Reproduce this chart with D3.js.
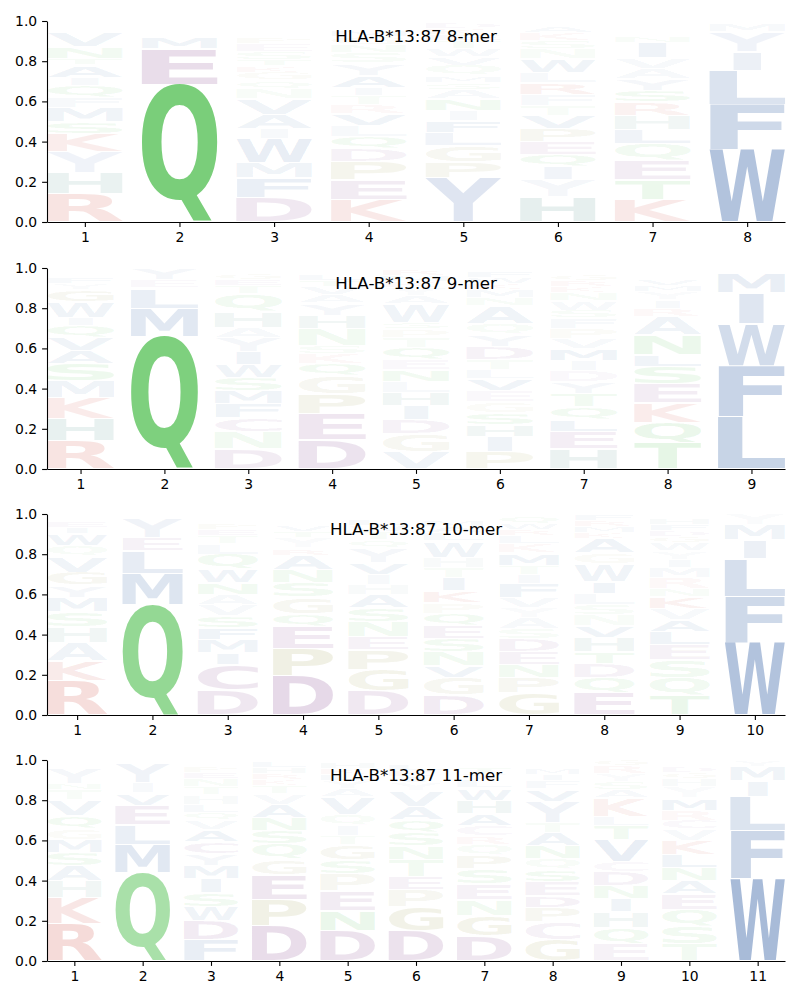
<!DOCTYPE html>
<html><head><meta charset="utf-8">
<script src="https://cdn.jsdelivr.net/npm/d3@7"></script>
<style>body{margin:0;background:#fff}svg{display:block}</style>
</head><body>
<svg id="chart" width="800" height="1000"></svg>
<script>
// ---------- data (letter, probability) stacked bottom -> top ----------
const titles = ["HLA-B*13:87 8-mer","HLA-B*13:87 9-mer","HLA-B*13:87 10-mer","HLA-B*13:87 11-mer"];

const logo8 = [
 [["R",.14],["H",.105],["Y",.105],["K",.09],["S",.06],["M",.07],["F",.05],["Q",.06],["I",.04],["A",.06],["T",.03],["N",.06],["V",.07],["E",.015],["P",.015],["G",.01],["L",.01],["D",.01]],
 [["Q",.685],["E",.175],["M",.06],["L",.02],["D",.02],["V",.015],["A",.015],["S",.01]],
 [["D",.12],["F",.1],["M",.075],["W",.12],["I",.05],["A",.07],["V",.08],["N",.05],["Q",.04],["G",.04],["K",.03],["T",.03],["S",.04],["E",.04],["P",.03],["L",.02],["R",.02],["Y",.02],["H",.025]],
 [["K",.11],["E",.1],["P",.09],["D",.065],["Q",.06],["L",.055],["V",.06],["R",.045],["T",.045],["I",.04],["A",.06],["Y",.06],["S",.05],["N",.04],["G",.04],["M",.03],["W",.025],["F",.02]],
 [["Y",.22],["P",.08],["G",.08],["L",.065],["F",.06],["I",.05],["N",.06],["A",.045],["S",.035],["M",.035],["Q",.05],["V",.04],["W",.04],["T",.04],["E",.03],["K",.03],["D",.03],["R",.01]],
 [["H",.125],["Y",.085],["I",.065],["Q",.06],["E",.065],["P",.065],["V",.065],["T",.05],["F",.055],["R",.06],["L",.05],["W",.065],["N",.05],["S",.04],["K",.04],["A",.03],["D",.02],["G",.01]],
 [["K",.11],["T",.1],["E",.095],["Q",.085],["L",.07],["H",.07],["R",.065],["S",.06],["Y",.06],["A",.05],["V",.05],["I",.075],["N",.03],["G",.02],["F",.02],["M",.02],["D",.02]],
 [["W",.36],["F",.225],["L",.17],["I",.09],["Y",.1],["M",.04],["V",.015]]
];

const logo9 = [
 [["R",.14],["H",.11],["K",.105],["M",.085],["S",.085],["A",.065],["V",.065],["Q",.06],["I",.04],["W",.075],["G",.06],["Y",.03],["F",.03],["T",.025],["N",.025]],
 [["Q",.66],["M",.14],["L",.1],["E",.04],["Y",.06]],
 [["D",.1],["N",.085],["C",.07],["F",.07],["M",.065],["S",.065],["W",.065],["I",.065],["Y",.07],["A",.05],["H",.08],["Q",.085],["T",.04],["E",.03],["G",.03],["K",.02]],
 [["D",.145],["E",.13],["P",.1],["G",.09],["Q",.06],["K",.05],["S",.04],["N",.085],["H",.065],["Y",.06],["A",.04],["V",.04],["T",.03],["L",.03],["W",.025]],
 [["V",.085],["G",.09],["D",.07],["I",.07],["H",.065],["L",.055],["N",.06],["E",.05],["Q",.06],["T",.05],["P",.04],["S",.035],["W",.09],["A",.04],["Y",.04],["K",.03],["M",.03],["R",.03]],
 [["P",.085],["I",.075],["H",.06],["S",.06],["G",.055],["E",.055],["V",.06],["L",.045],["T",.05],["D",.065],["Y",.06],["Q",.055],["A",.085],["N",.04],["M",.04],["K",.03],["W",.03],["F",.03],["R",.02]],
 [["H",.1],["E",.085],["L",.06],["Q",.065],["T",.065],["Y",.06],["D",.055],["I",.05],["M",.06],["V",.05],["P",.05],["F",.05],["S",.04],["W",.045],["N",.04],["K",.03],["R",.03],["G",.03],["A",.02],["C",.015]],
 [["T",.13],["Q",.1],["K",.1],["E",.095],["S",.085],["L",.06],["N",.1],["A",.09],["R",.04],["I",.04],["Y",.04],["M",.03],["V",.03],["G",.02],["D",.02],["F",.02]],
 [["L",.26],["F",.255],["W",.21],["I",.15],["M",.1],["Y",.025]]
];

const logo10 = [
 [["R",.17],["K",.1],["A",.09],["H",.08],["S",.075],["M",.07],["Y",.06],["G",.065],["V",.08],["Q",.05],["W",.06],["I",.03],["E",.03],["T",.025],["F",.015]],
 [["Q",.55],["M",.155],["L",.11],["E",.065],["Y",.095],["F",.025]],
 [["D",.125],["C",.125],["I",.06],["M",.065],["F",.06],["S",.06],["V",.055],["A",.05],["N",.06],["W",.065],["Q",.075],["L",.05],["T",.04],["E",.03],["P",.03],["G",.02],["K",.02]],
 [["D",.195],["P",.135],["E",.11],["Q",.065],["G",.08],["S",.075],["N",.065],["A",.07],["R",.035],["Y",.05],["T",.03],["V",.03],["K",.02],["H",.02],["L",.02]],
 [["D",.12],["G",.105],["P",.1],["E",.065],["N",.075],["S",.07],["A",.065],["H",.05],["I",.05],["V",.06],["Y",.07],["Q",.04],["T",.04],["W",.03],["L",.03],["M",.02]],
 [["D",.1],["G",.085],["V",.06],["N",.07],["S",.065],["E",.065],["Q",.06],["P",.055],["K",.06],["I",.065],["T",.05],["H",.05],["W",.08],["L",.04],["A",.03],["M",.03],["Y",.025]],
 [["G",.11],["P",.075],["N",.065],["E",.065],["D",.065],["S",.05],["A",.055],["Y",.05],["V",.05],["F",.07],["I",.045],["T",.045],["M",.06],["K",.045],["L",.04],["R",.03],["W",.03],["Q",.04]],
 [["E",.11],["Q",.075],["D",.07],["T",.06],["H",.07],["V",.06],["N",.055],["S",.05],["L",.055],["I",.06],["W",.085],["G",.055],["A",.07],["K",.03],["M",.03],["R",.03],["F",.03]],
 [["T",.095],["Q",.09],["S",.09],["E",.075],["L",.065],["A",.06],["V",.055],["K",.06],["N",.04],["R",.055],["M",.05],["I",.04],["Y",.04],["W",.04],["G",.03],["D",.03],["F",.03],["H",.035],["P",.02]],
 [["W",.36],["F",.23],["L",.19],["I",.09],["M",.075],["Y",.055]]
];

const logo11 = [
 [["R",.185],["K",.13],["H",.085],["A",.075],["S",.065],["M",.065],["G",.055],["Q",.065],["V",.075],["T",.05],["N",.03],["Y",.075],["F",.02],["L",.015],["I",.01]],
 [["Q",.44],["M",.14],["L",.1],["E",.095],["V",.06],["I",.05],["Y",.1],["F",.015]],
 [["F",.105],["D",.095],["W",.07],["S",.07],["I",.07],["M",.065],["Y",.06],["C",.06],["A",.06],["V",.045],["Q",.04],["L",.04],["H",.045],["T",.04],["N",.04],["E",.03],["P",.03],["K",.025]],
 [["D",.175],["P",.13],["E",.125],["G",.075],["Q",.075],["S",.07],["N",.065],["A",.065],["V",.05],["T",.04],["K",.03],["R",.03],["H",.03],["L",.03]],
 [["D",.15],["N",.1],["E",.1],["P",.085],["S",.07],["G",.075],["T",.045],["I",.05],["Q",.055],["V",.085],["A",.04],["Y",.04],["L",.03],["K",.03],["H",.035]],
 [["D",.15],["G",.12],["P",.085],["E",.065],["T",.085],["N",.065],["S",.07],["Q",.065],["A",.065],["V",.075],["Y",.04],["I",.03],["K",.03],["L",.035],["R",.02]],
 [["D",.125],["G",.1],["N",.08],["E",.08],["S",.075],["P",.065],["Q",.055],["R",.04],["C",.055],["A",.06],["H",.065],["W",.06],["L",.04],["Y",.03],["T",.03],["K",.025],["M",.015]],
 [["G",.105],["C",.09],["P",.07],["D",.06],["E",.07],["S",.06],["Q",.055],["N",.065],["A",.065],["T",.05],["Y",.105],["V",.06],["F",.04],["I",.03],["M",.03],["K",.025],["L",.02]],
 [["E",.085],["Q",.08],["H",.08],["I",.065],["N",.065],["D",.07],["C",.05],["V",.11],["T",.07],["L",.045],["K",.09],["A",.04],["S",.04],["Y",.04],["R",.04],["G",.03]],
 [["T",.085],["S",.085],["Q",.085],["E",.08],["A",.065],["N",.065],["L",.065],["K",.07],["V",.055],["C",.045],["R",.05],["M",.06],["Y",.055],["H",.04],["G",.03],["D",.03],["F",.025]],
 [["W",.41],["F",.24],["L",.165],["I",.08],["M",.07],["Y",.035]]
];

const logos = [logo8, logo9, logo10, logo11];
const yTickValues = [0, 0.2, 0.4, 0.6, 0.8, 1.0];

// colour groups
const colorGroups = [
 ["AVLIMFW", "#1e509b"],
 ["Y", "#6482be"],
 ["QNST", "#32b432"],
 ["DEC", "#783282"],
 ["RK", "#c83228"],
 ["H", "#28786e"],
 ["GP", "#8c8c32"]
];

// ---------- layout ----------
const panelTops = [21, 268, 514, 760];
const panelH = 201, left = 47, right = 785;
const FS = 200;
const FONT = "DejaVu Sans";
const colorOf = {};
colorGroups.forEach(([s, c]) => s.split("").forEach(ch => colorOf[ch] = c));

const ctx = document.createElement("canvas").getContext("2d");
ctx.font = `bold ${FS}px "${FONT}"`;
const metricCache = {};
function metric(ch) {
  if (!metricCache[ch]) {
    const t = ctx.measureText(ch);
    metricCache[ch] = {L: t.actualBoundingBoxLeft, R: t.actualBoundingBoxRight,
                       A: t.actualBoundingBoxAscent, D: t.actualBoundingBoxDescent};
  }
  return metricCache[ch];
}

const svg = d3.select("#chart");

logos.forEach((logo, p) => {
  const n = logo.length;
  const top = panelTops[p];
  const x = d3.scaleLinear().domain([0.6, n + 0.4]).range([left, right]);
  const y = d3.scaleLinear().domain([0, 1]).range([top + panelH, top]);
  const g = svg.append("g");

  const mE = metric("E");
  const eW = mE.L + mE.R;
  logo.forEach((col, i) => {
    let cum = 0;
    const pos = i + 1;
    const x0 = x(pos - 0.4), x1 = x(pos + 0.4), bw = x1 - x0;
    col.forEach(([ch, h]) => {
      const pad = 0.7;
      const yb = y(cum) - pad, yt = y(cum + h) + pad;
      cum += h;
      if (yb - yt < 0.3) return;
      const m = metric(ch);
      const iw = m.L + m.R, ih = m.A + m.D;
      const sx = Math.min(bw / iw, bw / eW);
      const sy = (yb - yt) / ih;
      const ox = x0 + (bw - iw * sx) / 2;
      g.append("text")
        .text(ch)
        .attr("transform", `translate(${ox + m.L * sx},${yt + m.A * sy}) scale(${sx},${sy})`)
        .attr("font-family", FONT)
        .attr("font-weight", "bold")
        .attr("font-size", FS)
        .attr("fill", colorOf[ch])
        .attr("fill-opacity", Math.min(1, 0.95 * h));
    });
  });

  // axes
  const ya = svg.append("g").attr("transform", `translate(${left},0)`)
    .call(d3.axisLeft(y).tickValues(yTickValues).tickFormat(d3.format(".1f")).tickSize(4.9).tickPadding(4.9).tickSizeOuter(0));
  const xa = svg.append("g").attr("transform", `translate(0,${top + panelH})`)
    .call(d3.axisBottom(x).tickValues(d3.range(1, n + 1)).tickFormat(d3.format("d")).tickSize(4.9).tickPadding(4.9).tickSizeOuter(0));
  [ya, xa].forEach(a => {
    a.attr("font-family", FONT).attr("font-size", 13.9);
    a.selectAll("text").attr("fill", "#000");
    a.selectAll("line").attr("stroke", "#000").attr("stroke-width", 1.1);
    a.select(".domain").attr("stroke", "#000").attr("stroke-width", 1.1);
  });

  svg.append("text")
    .attr("x", (left + right) / 2)
    .attr("y", top + 21.3)
    .attr("text-anchor", "middle")
    .attr("font-family", FONT)
    .attr("font-size", 16.67)
    .attr("fill", "#000")
    .text(titles[p]);
});
</script>
</body></html>
